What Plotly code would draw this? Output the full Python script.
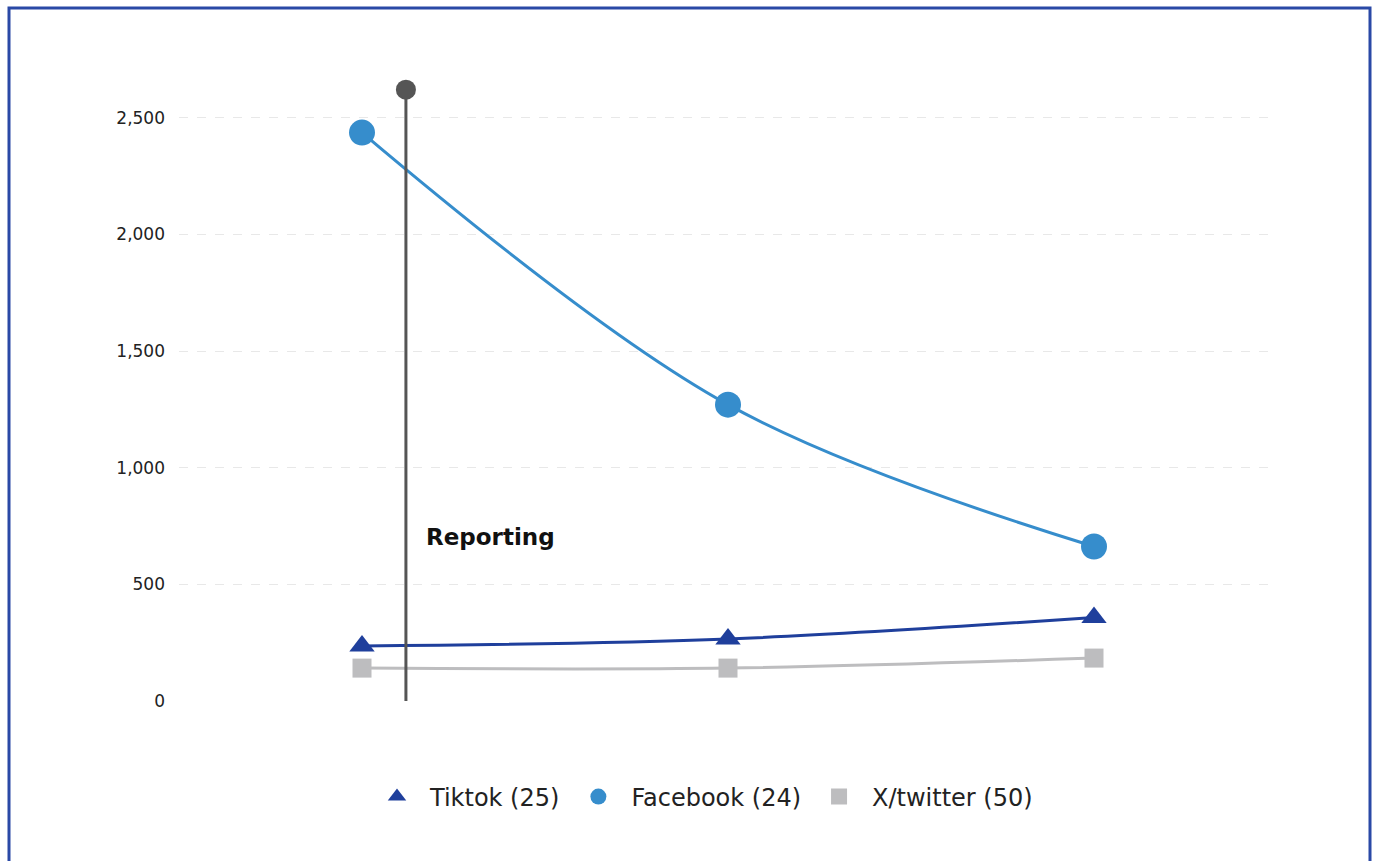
import plotly.graph_objects as go

categories = ["P1", "P2", "P3"]
tiktok = [236, 266, 358]
facebook = [2436, 1270, 662]
twitter = [141, 141, 184]
series_names = ["Tiktok (25)", "Facebook (24)", "X/twitter (50)"]
series_colors = ["#1f3f9c", "#368dcc", "#bdbdbf"]
series_symbols = ["triangle-up", "circle", "square"]
series_sizes = [22, 26, 19]
marker_line_x = [0.12, 0.12]
marker_line_y = [0, 2620]
annotation_text = "Reporting"
annotation_y = 703
y_ticks = [0, 500, 1000, 1500, 2000, 2500]
y_ticktext = ["0", "500", "1,000", "1,500", "2,000", "2,500"]

FONT = "DejaVu Sans"
fig = go.Figure()
xi = [0, 1, 2]
for vals, name, col, sym, sz in zip([tiktok, facebook, twitter], series_names,
                                    series_colors, series_symbols, series_sizes):
    fig.add_trace(go.Scatter(x=xi, y=vals, name=name, mode="lines+markers", showlegend=False,
                             line=dict(color=col, width=3, shape="spline", smoothing=1),
                             marker=dict(symbol=sym, size=sz, color=col)))
for name, col, sym, sz in zip(series_names, series_colors, series_symbols, series_sizes):
    fig.add_trace(go.Scatter(x=[None], y=[None], name=name, mode="markers",
                             marker=dict(symbol=sym, size=sz, color=col)))

fig.add_trace(go.Scatter(x=marker_line_x, y=marker_line_y, mode="lines", showlegend=False,
                         line=dict(color="#555555", width=3), hoverinfo="skip"))
fig.add_trace(go.Scatter(x=marker_line_x[1:], y=marker_line_y[1:], mode="markers", showlegend=False,
                         marker=dict(color="#555555", size=20), cliponaxis=False, hoverinfo="skip"))

fig.add_annotation(x=marker_line_x[0], y=annotation_y, text="<b>" + annotation_text + "</b>",
                   showarrow=False, xanchor="left", yanchor="middle", xshift=18,
                   font=dict(family=FONT, size=23, color="#111111"))

W, H = 1378, 861
L, R, T, B = 179, 1277, 71, 701
pw, ph = R - L, B - T
def px(x):
    return (x - L) / pw
def py(y):
    return (B - y) / ph
fig.add_shape(type="rect", xref="paper", yref="paper",
              x0=px(9), x1=px(1370), y0=py(880), y1=py(8),
              line=dict(color="#2a49a6", width=3), fillcolor="rgba(0,0,0,0)", layer="below")

fig.update_layout(
    width=W, height=H,
    margin=dict(l=L, r=W - R, t=T, b=H - B, pad=0),
    paper_bgcolor="white", plot_bgcolor="white",
    font=dict(family=FONT, color="#222222"),
    showlegend=True,
    legend=dict(orientation="h", x=px(701), xanchor="center", y=py(797), yanchor="middle",
                font=dict(family=FONT, size=24, color="#222222"), itemsizing="trace",
                traceorder="normal", itemwidth=56),
    xaxis=dict(range=[-0.5, 2.5], showgrid=False, zeroline=False, showticklabels=False,
               showline=False, fixedrange=True),
    yaxis=dict(range=[0, 2700], tickvals=y_ticks, ticktext=y_ticktext, showgrid=True,
               gridcolor="#e8e8e8", griddash="dash", gridwidth=1, zeroline=False,
               showline=False, ticks="", ticklabelstandoff=13,
               tickfont=dict(family=FONT, size=17, color="#222222")),
)

fig.write_html("out.html")
